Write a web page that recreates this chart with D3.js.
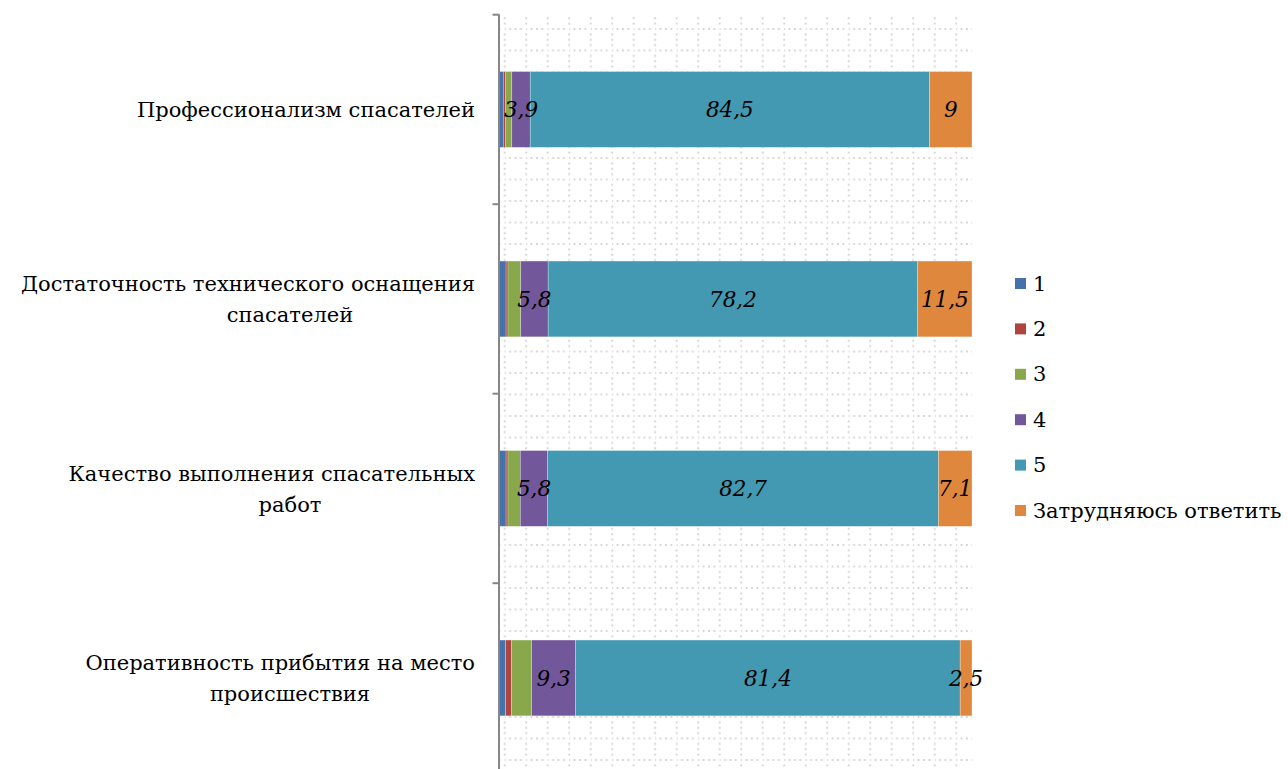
<!DOCTYPE html>
<html>
<head>
<meta charset="utf-8">
<script src="https://cdn.jsdelivr.net/npm/d3@7"></script>
<style>
  html, body { margin: 0; padding: 0; background: #ffffff; }
  svg { display: block; }
  text { font-family: "DejaVu Serif", "Liberation Serif", serif; }
</style>
</head>
<body>
<svg id="chart" width="1288" height="769"></svg>
<script>
// Survey: assessment of rescue service (percent of respondents)
const categories = [
  "Профессионализм спасателей",
  "Достаточность технического оснащения спасателей",
  "Качество выполнения спасательных работ",
  "Оперативность прибытия на место происшествия"
];
const categoryLines = [
  ["Профессионализм спасателей"],
  ["Достаточность технического оснащения", "спасателей"],
  ["Качество выполнения спасательных", "работ"],
  ["Оперативность прибытия на место", "происшествия"]
];
const seriesNames = ["1", "2", "3", "4", "5", "Затрудняюсь ответить"];
const score1 = [0.8, 1.4, 1.4, 1.3];
const score2 = [0.5, 0.4, 0.4, 1.2];
const score3 = [1.3, 2.7, 2.6, 4.3];
const score4 = [3.9, 5.8, 5.8, 9.3];
const score5 = [84.5, 78.2, 82.7, 81.4];
const hardToSay = [9, 11.5, 7.1, 2.5];
// which series carry a value label
const labelledSeries = [false, false, false, true, true, true];
const colors = ["#4672AC", "#AE4440", "#89A84C", "#72589A", "#4299B1", "#E0873E"];

const seriesValues = [score1, score2, score3, score4, score5, hardToSay];
const rows = categories.map((c, i) => {
  const r = { category: c };
  seriesNames.forEach((s, j) => { r[s] = seriesValues[j][i]; });
  return r;
});

const svg = d3.select("#chart");
const plot = { left: 499.5, right: 972, top: 14.7, bottom: 772.7 };

const x = d3.scaleLinear().domain([0, 100]).range([plot.left, plot.right]);
const y = d3.scaleBand().domain(categories)
  .range([plot.top, plot.bottom])
  .paddingInner(0.6).paddingOuter(0.3);

// dotted grid fill of the plot area
const cell = 21.5, dotStep = cell / 4;
const defs = svg.append("defs");
const pat = defs.append("pattern")
  .attr("id", "dotgrid")
  .attr("patternUnits", "userSpaceOnUse")
  .attr("x", 504.7).attr("y", 29)
  .attr("width", cell).attr("height", cell);
const dot = (px, py) => pat.append("rect")
  .attr("x", px - 0.9).attr("y", py - 0.9)
  .attr("width", 1.8).attr("height", 1.8).attr("fill", "#cfcfcf");
for (let k = 0; k < 4; k++) {
  dot(k * dotStep, 0); dot(k * dotStep, cell);
  if (k > 0) { dot(0, k * dotStep); dot(cell, k * dotStep); }
}
svg.append("rect")
  .attr("x", plot.left).attr("y", plot.top)
  .attr("width", plot.right - plot.left).attr("height", plot.bottom - plot.top)
  .attr("fill", "url(#dotgrid)");

// stacked bars
const stack = d3.stack().keys(seriesNames);
const layers = stack(rows);

const layerG = svg.append("g").selectAll("g")
  .data(layers).join("g")
  .attr("fill", (d, i) => colors[i]);

layerG.selectAll("rect")
  .data(d => d)
  .join("rect")
  .attr("x", d => x(d[0]))
  .attr("y", d => y(d.data.category))
  .attr("width", d => x(d[1]) - x(d[0]))
  .attr("height", y.bandwidth())
  .attr("stroke", "#ffffff")
  .attr("stroke-opacity", 0.45)
  .attr("stroke-width", 0.6);

// value labels
const fmt = v => String(v).replace(".", ",");
layers.forEach((layer, i) => {
  if (!labelledSeries[i]) return;
  svg.append("g").selectAll("text")
    .data(layer).join("text")
    .attr("x", d => (x(d[0]) + x(d[1])) / 2)
    .attr("y", d => y(d.data.category) + y.bandwidth() / 2)
    .attr("dy", "0.36em")
    .attr("text-anchor", "middle")
    .attr("font-style", "italic")
    .attr("font-size", 21.5)
    .attr("fill", "#000")
    .text(d => fmt(d.data[seriesNames[i]]));
});

// category axis
const axisG = svg.append("g");
axisG.append("line")
  .attr("x1", plot.left - 0.5).attr("x2", plot.left - 0.5)
  .attr("y1", plot.top).attr("y2", plot.bottom)
  .attr("stroke", "#868686").attr("stroke-width", 2);
const boundaries = d3.range(categories.length + 1).map(i => plot.top + i * y.step());
axisG.selectAll("line.tick").data(boundaries).join("line")
  .attr("class", "tick")
  .attr("x1", plot.left - 7).attr("x2", plot.left)
  .attr("y1", d => d).attr("y2", d => d)
  .attr("stroke", "#868686").attr("stroke-width", 2);

const lineH = 31;
categories.forEach((c, i) => {
  const lines = categoryLines[i];
  const cy = y(c) + y.bandwidth() / 2;
  const y0 = cy - (lines.length - 1) * lineH / 2;
  lines.forEach((ln, j) => {
    svg.append("text")
      .attr("x", j === 0 ? 475 : 290)
      .attr("y", y0 + j * lineH)
      .attr("dy", "0.36em")
      .attr("text-anchor", j === 0 ? "end" : "middle")
      .attr("font-size", 21)
      .attr("fill", "#000")
      .text(ln);
  });
});

// legend
const legend = svg.append("g").attr("transform", "translate(1015,283)");
const legItems = legend.selectAll("g").data(seriesNames).join("g")
  .attr("transform", (d, i) => `translate(0,${i * 45.4})`);
legItems.append("rect")
  .attr("x", 0).attr("y", -5).attr("width", 11).attr("height", 11)
  .attr("fill", (d, i) => colors[i]);
legItems.append("text")
  .attr("x", 18).attr("y", 0).attr("dy", "0.36em")
  .attr("font-size", 21)
  .attr("fill", "#000")
  .text(d => d);
</script>
</body>
</html>
